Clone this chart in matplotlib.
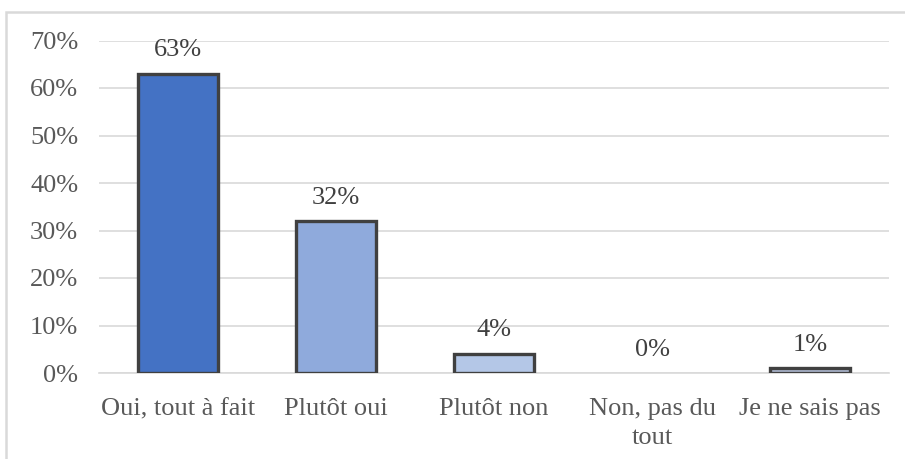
import matplotlib
matplotlib.use('Agg')
import matplotlib.pyplot as plt
from matplotlib.patches import Rectangle

# Data
categories = ['Oui, tout à fait', 'Plutôt oui', 'Plutôt non', 'Non, pas du\ntout', 'Je ne sais pas']
values = [63, 32, 4, 0, 1]
labels = ['63%', '32%', '4%', '0%', '1%']
yticks = [0, 10, 20, 30, 40, 50, 60, 70]

bar_colors = ['#4472C4', '#8FAADC', '#B4C7E7', '#B4C7E7', '#AEB9D1']
edge_color = '#404040'
text_color = '#595959'
grid_color = '#D9D9D9'

plt.rcParams['font.family'] = ['Liberation Serif', 'DejaVu Serif']

W, H = 905, 459
fig = plt.figure(figsize=(W / 100, H / 100), dpi=100)
ax = fig.add_axes([99 / W, 86 / H, 790 / W, (418.5 - 86) / H])

x = range(len(categories))
lws = [2.4 if v > 0 else 0 for v in values]
ax.bar(x, values, width=0.51, color=bar_colors, edgecolor=edge_color, linewidth=lws, zorder=3)

for i, v in enumerate(values):
    ax.annotate(labels[i], (i, v), xytext=(0, 9), textcoords='offset points',
                ha='center', va='bottom', fontsize=19, color='#404040')

ax.set_xlim(-0.5, len(categories) - 0.5)
ax.set_ylim(0, 70)
ax.set_yticks(yticks)
ax.set_yticklabels([f'{t}%' for t in yticks])
ax.set_xticks(list(x))
ax.set_xticklabels(categories, linespacing=1.4)

ax.tick_params(axis='y', length=0, pad=15, labelsize=19, labelcolor=text_color)
ax.tick_params(axis='x', length=0, pad=18, labelsize=19, labelcolor=text_color)

ax.yaxis.grid(True, color=grid_color, linewidth=1.2, zorder=0)
ax.set_axisbelow(True)
for s in ['top', 'right', 'left']:
    ax.spines[s].set_visible(False)
ax.spines['bottom'].set_color(grid_color)
ax.spines['bottom'].set_linewidth(1.2)

# chart area border (only left and top edges are inside the picture)
fig.patches.append(Rectangle((6 / W, -0.1), 2, 1 - 12 / H + 0.1, transform=fig.transFigure,
                             fill=False, edgecolor=grid_color, linewidth=1.8))

fig.savefig('out.png', dpi=100)
